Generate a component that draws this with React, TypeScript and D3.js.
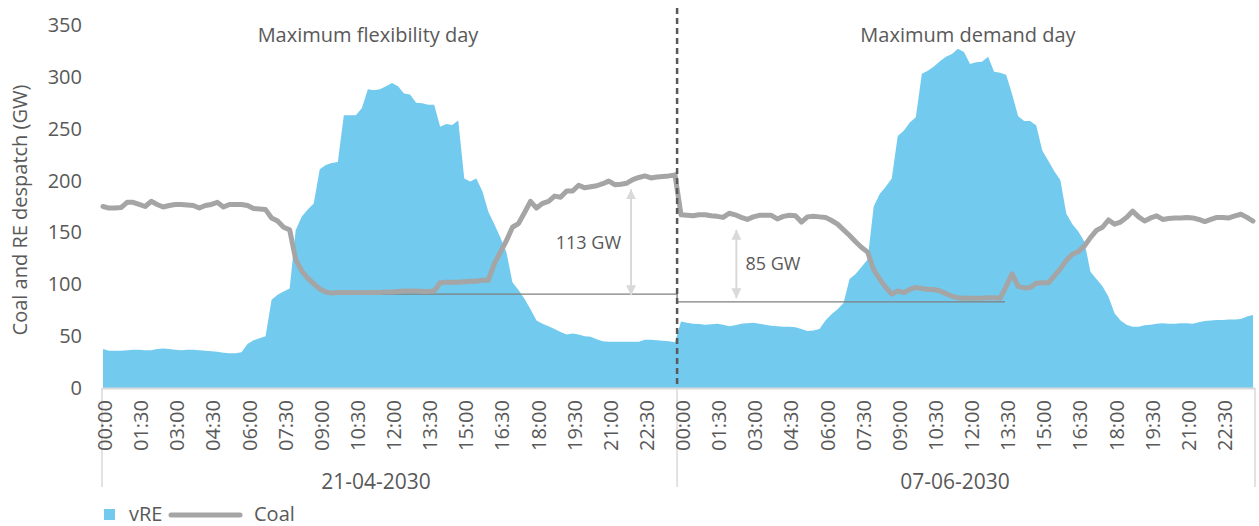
import React from "react";
import * as d3 from "d3";

// ---- Data (15-minute resolution, GW) ----
const dates = ["21-04-2030", "07-06-2030"];
const dayTitles = ["Maximum flexibility day", "Maximum demand day"];
const timeTicks = ["00:00", "01:30", "03:00", "04:30", "06:00", "07:30", "09:00", "10:30", "12:00", "13:30", "15:00", "16:30", "18:00", "19:30", "21:00", "22:30"];
const yTicks = [0, 50, 100, 150, 200, 250, 300, 350];

const vreDay1 = [
  37.5, 36, 36, 36, 36.5, 37, 37, 36.5, 36.5, 37.5,
  38, 37.5, 37, 36.5, 37, 37, 36.5, 36, 35.5, 35,
  34, 33.5, 33.5, 34.5, 42.5, 46, 48, 50, 85, 90,
  93, 96, 152, 165, 172, 178, 211, 215, 217, 218,
  263, 263, 263, 270, 288, 287, 288, 291, 294, 291,
  284, 283, 275, 274.5, 273, 273, 252, 254.5, 253.5, 258,
  202, 199, 202, 190, 170, 158, 145, 131, 102, 94.5,
  86, 76, 65, 62, 59.5, 57, 54, 51.5, 52.5, 51.5,
  50, 49.5, 47, 45, 44.5, 44.5, 44.5, 44.5, 44.5, 44.5,
  46.5, 46.5, 46, 45.5, 45, 44,
];
const vreDay2 = [
  64, 63, 62, 61.7, 61, 61.5, 62, 61, 59.5, 60.5,
  62, 62.5, 63, 62, 61, 60, 59.5, 59, 59, 58.5,
  57, 55, 55.5, 57, 65, 71, 76, 82, 105, 110,
  117, 124, 175, 187, 194, 202, 243, 248, 256, 261,
  303, 306, 310, 315, 319.5, 322, 327, 324, 312.5, 314,
  314.5, 319.5, 305, 304, 302, 283, 262, 257.5, 257.5, 253,
  229, 219, 209, 200.6, 168, 158, 151, 141, 112, 105,
  98, 88, 72, 65, 61, 59, 59, 60.5, 61, 62,
  62.5, 62, 62, 62.5, 62.5, 62, 63.5, 64.5, 65, 65.5,
  65.5, 66, 66, 66.5, 69, 70.5,
];
const coalDay1 = [
  175, 173.5, 173.5, 174, 179, 179, 177, 175, 180, 177,
  174.5, 176, 177, 177, 176.5, 176, 173.5, 176, 177, 179,
  174.5, 177, 177, 177, 176, 173, 172.5, 172, 164, 161,
  155, 152.5, 124, 113, 106, 100.5, 95.5, 92.5, 91.5, 92,
  92, 92, 92, 92, 92, 92, 92, 92.5, 92.5, 93,
  93.5, 93.5, 93.5, 93, 93, 93.5, 101.5, 102, 102, 102,
  102.5, 103, 103, 104, 104, 120, 131, 142, 155, 158.5,
  169, 180, 173.5, 178, 180, 185, 184, 190, 190, 195.5,
  193, 194, 195, 197, 199.5, 196, 196.5, 197.5, 201, 203,
  204.5, 202.5, 203.5, 204, 204.5, 205.5,
];
const coalDay2 = [
  167, 166.5, 166, 167, 167, 166, 165.5, 164.5, 168.5, 167,
  164.5, 162.5, 165, 166.5, 166.5, 166.5, 163, 165.5, 166.5, 166,
  160, 165, 165.5, 165, 164.5, 161.5, 158, 152.5, 147, 141,
  135.5, 131, 114, 105, 97, 90.5, 93.5, 92, 95, 97,
  96, 95, 95, 93.5, 91, 88.5, 87, 86.5, 86.5, 86.5,
  86.5, 87, 87, 86.5, 98, 110, 98, 96.5, 97, 101,
  101.5, 101.5, 108, 115, 123, 129, 131.5, 137, 145, 152,
  155, 162, 158, 160, 164.5, 170.5, 165, 161, 164, 166,
  162.5, 163.5, 164, 164, 164.5, 164, 162.5, 160.5, 162.5, 164.5,
  164.5, 164, 166, 167.5, 164.5, 161,
];

// Annotations (index positions on the 15-min axis, values in GW)
const refLines = [
  { value: 90.6, from: 37.7, to: 95.35 },
  { value: 83, from: 95.35, to: 149.8 },
];
const gapArrows = [
  { idx: 87.7, top: 191.6, bottom: 89.4, label: "113 GW", side: "left" },
  { idx: 105.2, top: 152.5, bottom: 86.5, label: "85 GW", side: "right" },
];

const vre = [...vreDay1, ...vreDay2];
const coal = [...coalDay1, ...coalDay2];
const PER_DAY = vreDay1.length;

const W = 1259;
const H = 526;
const FONT = "'Open Sans', sans-serif";
const TXT = "#595959";
const BLUE = "#72CAEE";
const GRAY = "#A5A5A5";

export default function App() {
  const n = vre.length;
  const x = d3.scaleLinear().domain([0, n - 1]).range([103, 1253]);
  const y = d3.scaleLinear().domain([0, 350]).range([388, 25]);

  const area = d3
    .area<number>()
    .x((_, i) => x(i))
    .y0(y(0))
    .y1((d) => y(d));
  const line = d3
    .line<number>()
    .x((_, i) => x(i))
    .y((d) => y(d));

  const divX = x(PER_DAY - 0.65);
  const sepXs = [102, divX, 1255];

  const dayCenters = [x((PER_DAY - 1) / 2) - 13, x(PER_DAY + (PER_DAY - 1) / 2) - 12];
  const titleX = [368, 968];

  return (
    <svg
      width={W}
      height={H}
      style={{ position: "absolute", left: 0, top: 0, background: "#fff" }}
      fontFamily={FONT}
    >
      {/* Area */}
      <path d={area(vre) || ""} fill={BLUE} />

      {/* Reference lines */}
      {refLines.map((r, i) => (
        <line key={i} x1={x(r.from)} x2={x(r.to)} y1={y(r.value)} y2={y(r.value)} stroke="#7F7F7F" strokeWidth={1.3} />
      ))}
      <line x1={divX} x2={divX} y1={y(refLines[0].value)} y2={y(refLines[1].value)} stroke="#7F7F7F" strokeWidth={1.3} />

      {/* Coal line */}
      <path d={line(coal) || ""} fill="none" stroke={GRAY} strokeWidth={5} strokeLinejoin="round" strokeLinecap="round" />

      {/* X axis line */}
      <line x1={102} x2={1255} y1={y(0) + 0.5} y2={y(0) + 0.5} stroke="#D9D9D9" strokeWidth={2} />
      {sepXs.map((sx, i) => (
        <line key={i} x1={sx} x2={sx} y1={y(0)} y2={487} stroke="#D9D9D9" strokeWidth={1.5} />
      ))}

      {/* Divider dashed line */}
      <line x1={divX} x2={divX} y1={8} y2={y(0)} stroke="#595959" strokeWidth={2.5} strokeDasharray="6,4" />

      {/* Gap arrows */}
      <defs>
        <marker id="ah" viewBox="0 0 10 10" refX="10" refY="5" markerWidth="5" markerHeight="6.5" orient="auto-start-reverse" markerUnits="strokeWidth">
          <path d="M0,0 L10,5 L0,10 z" fill="#D9D9D9" />
        </marker>
      </defs>
      {gapArrows.map((a, i) => {
        const ax = x(a.idx);
        const midY = (y(a.top) + y(a.bottom)) / 2;
        return (
          <g key={i}>
            <line x1={ax} x2={ax} y1={y(a.top)} y2={y(a.bottom)} stroke="#D9D9D9" strokeWidth={2} markerStart="url(#ah)" markerEnd="url(#ah)" />
            <text
              x={a.side === "left" ? ax - 10 : ax + 9}
              y={midY}
              dy="0.35em"
              textAnchor={a.side === "left" ? "end" : "start"}
              fontSize={18}
              fill={TXT}
            >
              {a.label}
            </text>
          </g>
        );
      })}

      {/* Y axis ticks */}
      {yTicks.map((t) => (
        <text key={t} x={82} y={y(t)} dy="0.35em" textAnchor="end" fontSize={20} fill={TXT}>
          {t}
        </text>
      ))}
      <text
        transform={`translate(20,${210}) rotate(-90)`}
        textAnchor="middle"
        dy="0.35em"
        fontSize={20}
        fill={TXT}
      >
        Coal and RE despatch (GW)
      </text>

      {/* X tick labels */}
      {dates.map((dt, d) =>
        timeTicks.map((t, k) => {
          const tx = x(d * PER_DAY + k * 6) + 2;
          return (
            <text
              key={`${d}-${k}`}
              transform={`translate(${tx},400) rotate(-90)`}
              textAnchor="end"
              dy="0.35em"
              fontSize={20}
              fill={TXT}
            >
              {t}
            </text>
          );
        })
      )}

      {/* Date labels */}
      {dates.map((dt, d) => (
        <text key={dt} x={dayCenters[d]} y={482} dy="0.35em" textAnchor="middle" fontSize={21} fill={TXT}>
          {dt}
        </text>
      ))}

      {/* Titles */}
      {dayTitles.map((t, d) => (
        <text key={t} x={titleX[d]} y={35} dy="0.35em" textAnchor="middle" fontSize={20} fill={TXT}>
          {t}
        </text>
      ))}

      {/* Legend */}
      <rect x={104} y={509} width={11} height={11} fill={BLUE} />
      <text x={129} y={514} dy="0.35em" fontSize={20} fill={TXT}>vRE</text>
      <line x1={171} x2={240} y1={515} y2={515} stroke={GRAY} strokeWidth={5} strokeLinecap="round" />
      <text x={254} y={514} dy="0.35em" fontSize={20} fill={TXT}>Coal</text>
    </svg>
  );
}
